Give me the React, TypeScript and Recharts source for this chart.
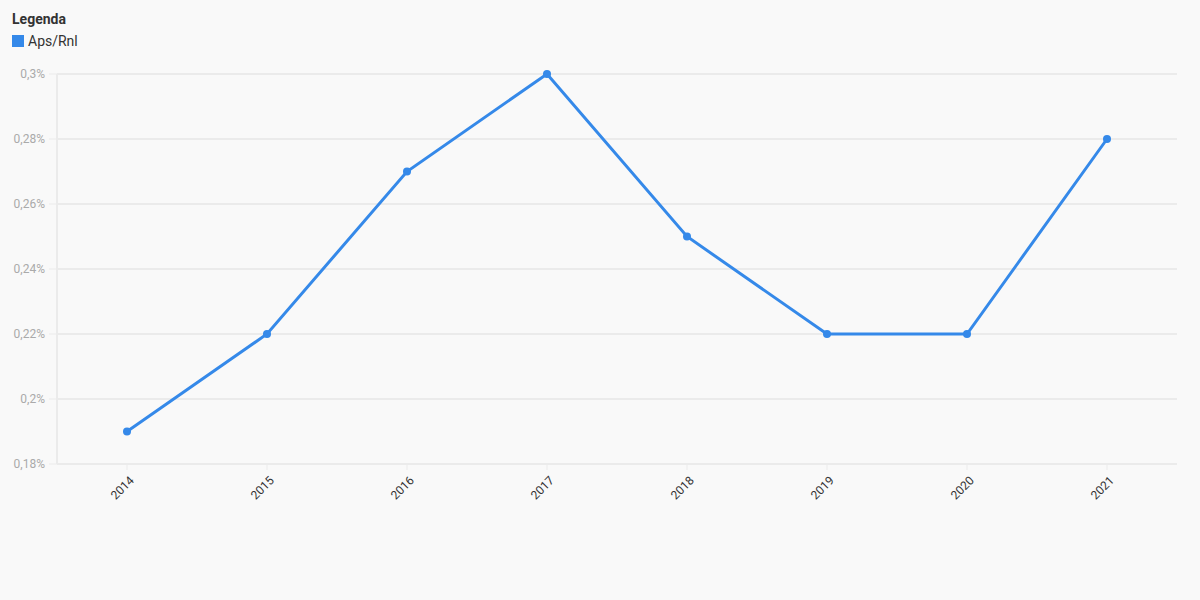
import React from 'react';
import { LineChart, Line, XAxis, YAxis, CartesianGrid } from 'recharts';

const years = ['2014', '2015', '2016', '2017', '2018', '2019', '2020', '2021'];
const apsRnl = [0.19, 0.22, 0.27, 0.3, 0.25, 0.22, 0.22, 0.28];
const yTicks = [0.18, 0.2, 0.22, 0.24, 0.26, 0.28, 0.3];
const seriesName = 'Aps/Rnl';
const legendTitle = 'Legenda';

const data = years.map((y, i) => ({ year: y, value: apsRnl[i] }));

const fmt = (v: number) => `${String(Math.round(v * 100) / 100).replace('.', ',')}%`;

const BLUE = '#3589e9';
const FONT = 'Roboto, "Noto Sans", sans-serif';

const XTick = (props: any) => {
  const { x, y, payload } = props;
  return (
    <text
      x={x}
      y={y}
      transform={`rotate(-45, ${x}, ${y})`}
      textAnchor="end"
      fill="#333"
      fontSize={12}
      fontFamily={FONT}
      dx={-1}
      dy={12}
    >
      {payload.value}
    </text>
  );
};

export default function App() {
  return (
    <div style={{ position: 'fixed', left: 0, top: 0, width: 1200, height: 600, background: '#f9f9f9', fontFamily: FONT }}>
      <div style={{ position: 'absolute', left: 12, top: 11, fontSize: 14, fontWeight: 700, color: '#333' }}>{legendTitle}</div>
      <div style={{ position: 'absolute', left: 12, top: 33, display: 'flex', alignItems: 'center', fontSize: 14, color: '#333' }}>
        <span style={{ display: 'inline-block', width: 12, height: 12, background: BLUE, marginRight: 4 }} />
        <span>{seriesName}</span>
      </div>
      <LineChart width={1200} height={600} data={data} margin={{ top: 74, right: 23, bottom: 86, left: 0 }}>
        <CartesianGrid vertical={false} stroke="#ebebeb" strokeWidth={2} />
        <XAxis
          dataKey="year"
          scale="band"
          height={50}
          axisLine={{ stroke: '#ebebeb', strokeWidth: 2 }}
          tickLine={{ stroke: '#ebebeb', strokeWidth: 1 }}
          tickSize={6}
          tick={<XTick />}
          interval={0}
        />
        <YAxis
          width={57}
          domain={[0.18, 0.3]}
          ticks={yTicks}
          tickFormatter={fmt}
          axisLine={{ stroke: '#ebebeb', strokeWidth: 2 }}
          tickLine={{ stroke: '#ebebeb', strokeWidth: 1 }}
          tickSize={8}
          tickMargin={4}
          tick={{ fill: '#aaaaaa', fontSize: 12, fontFamily: FONT }}
        />
        <Line
          type="linear"
          dataKey="value"
          stroke={BLUE}
          strokeWidth={3}
          dot={{ r: 4, fill: BLUE, stroke: BLUE, strokeWidth: 0 }}
          activeDot={false}
          isAnimationActive={false}
        />
      </LineChart>
    </div>
  );
}
